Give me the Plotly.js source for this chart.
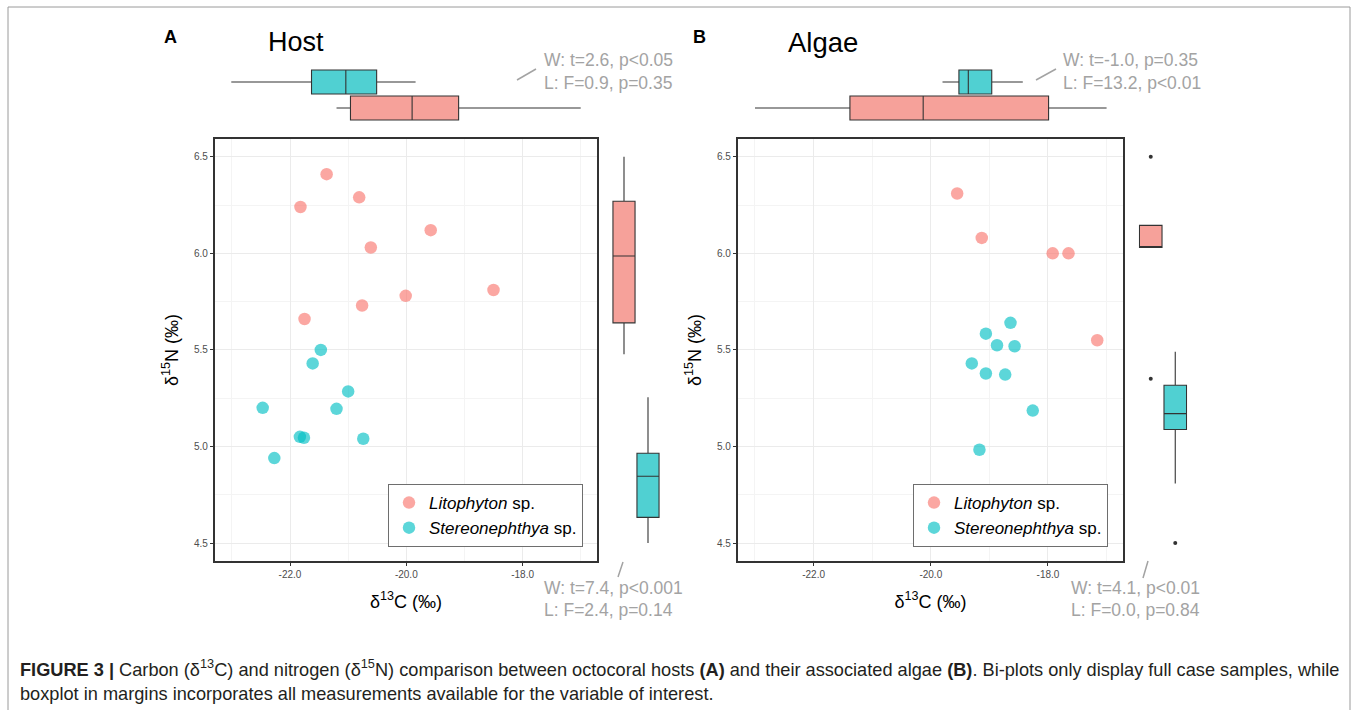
<!DOCTYPE html>
<html>
<head>
<meta charset="utf-8">
<script src="https://cdn.plot.ly/plotly-3.0.1.min.js"></script>
<style>
html,body{margin:0;padding:0;background:#fff;}
#chart{width:1357px;height:710px;}
</style>
</head>
<body>
<div id="chart"></div>
<script>
// ---------------- DATA ----------------
const species = ["Litophyton", "Stereonephthya"];
const legendNames = ["<i>Litophyton</i> sp.", "<i>Stereonephthya</i> sp."];

// Panel A (Host) bi-plot
const hostLitoC = [-21.37, -20.81, -21.82, -19.58, -20.61, -18.50, -20.01, -20.76, -21.75];
const hostLitoN = [6.41, 6.29, 6.24, 6.12, 6.03, 5.81, 5.78, 5.73, 5.66];
const hostStereoC = [-21.47, -21.61, -21.00, -22.47, -21.20, -21.83, -21.76, -20.74, -22.27];
const hostStereoN = [5.50, 5.43, 5.285, 5.20, 5.195, 5.05, 5.045, 5.04, 4.94];

// Panel B (Algae) bi-plot
const algaeLitoC = [-19.55, -19.13, -17.92, -17.65, -17.16];
const algaeLitoN = [6.31, 6.08, 6.00, 6.00, 5.55];
const algaeStereoC = [-18.64, -19.06, -18.87, -18.57, -19.30, -19.06, -18.73, -18.26, -19.17];
const algaeStereoN = [5.64, 5.584, 5.524, 5.519, 5.43, 5.378, 5.372, 5.186, 4.983];

// Marginal boxplot stats: [lowerfence, q1, median, q3, upperfence]
const hostLitoC_box   = [-21.20, -20.96, -19.90, -19.10, -17.00];
const hostStereoC_box = [-23.01, -21.63, -21.04, -20.51, -19.84];
const hostLitoN_box   = [5.478, 5.64, 5.986, 6.27, 6.50];
const hostStereoN_box = [4.50, 4.633, 4.846, 4.965, 5.255];

const algaeLitoC_box   = [-23.00, -21.38, -20.13, -17.99, -17.00];
const algaeStereoC_box = [-19.80, -19.52, -19.36, -18.96, -18.43];
const algaeLitoN_box   = [6.03, 6.03, 6.03, 6.145, 6.145];
const algaeStereoN_box = [4.808, 5.088, 5.17, 5.317, 5.49];
const algaeLitoN_out   = [6.50, 5.35];
const algaeStereoN_out = [4.50];

// Test statistics
const statsHostC  = ["W: t=2.6, p<0.05", "L: F=0.9, p=0.35"];
const statsHostN  = ["W: t=7.4, p<0.001", "L: F=2.4, p=0.14"];
const statsAlgaeC = ["W: t=-1.0, p=0.35", "L: F=13.2, p<0.01"];
const statsAlgaeN = ["W: t=4.1, p<0.01", "L: F=0.0, p=0.84"];

// Axis ticks
const xTickVals = [-22, -20, -18];
const xTickText = ["-22.0", "-20.0", "-18.0"];
const xMinorVals = [-23, -21, -19, -17];
const yTickVals = [4.5, 5.0, 5.5, 6.0, 6.5];
const yTickText = ["4.5", "5.0", "5.5", "6.0", "6.5"];
const yMinorVals = [4.75, 5.25, 5.75, 6.25];

const captionLine1 = "<b>FIGURE 3 |</b> Carbon (δ<sup>13</sup>C) and nitrogen (δ<sup>15</sup>N) comparison between octocoral hosts <b>(A)</b> and their associated algae <b>(B)</b>. Bi-plots only display full case samples, while";
const captionLine2 = "boxplot in margins incorporates all measurements available for the variable of interest.";

// ---------------- STYLE ----------------
const W = 1357, H = 710;
const fx = p => p / W;
const fy = p => 1 - p / H;
const FONT = "Liberation Sans, Arial, Helvetica, sans-serif";
const RED = "rgba(248,118,109,0.64)";
const TEAL = "rgba(0,191,196,0.64)";
const RED_BOX = "#F6A19A";
const TEAL_BOX = "#50D0D2";
const STAT_GREY = "#A3A3A3";
const X_RANGE = [-23.29, -16.72];
const Y_RANGE = [4.407, 6.592];

function scatter(x, y, xa, ya, color, name, legend) {
  return {type: "scatter", mode: "markers", x: x, y: y, xaxis: xa, yaxis: ya,
    name: name, legend: legend, showlegend: true, legendgroup: name + legend,
    marker: {size: 12.5, color: color, line: {width: 0}}, hoverinfo: "x+y"};
}
function hbox(stats, pos, xa, ya, fill) {
  return {type: "box", orientation: "h", xaxis: xa, yaxis: ya, y: [pos],
    lowerfence: [stats[0]], q1: [stats[1]], median: [stats[2]], q3: [stats[3]], upperfence: [stats[4]],
    width: 0.92, whiskerwidth: 0, fillcolor: fill, line: {color: "#333333", width: 1.1},
    showlegend: false, boxpoints: false, hoverinfo: "skip"};
}
function vbox(stats, pos, xa, ya, fill) {
  return {type: "box", orientation: "v", xaxis: xa, yaxis: ya, x: [pos],
    lowerfence: [stats[0]], q1: [stats[1]], median: [stats[2]], q3: [stats[3]], upperfence: [stats[4]],
    width: 0.92, whiskerwidth: 0, fillcolor: fill, line: {color: "#333333", width: 1.1},
    showlegend: false, boxpoints: false, hoverinfo: "skip"};
}

const traces = [
  scatter(hostLitoC, hostLitoN, "x", "y", RED, legendNames[0], "legend"),
  scatter(hostStereoC, hostStereoN, "x", "y", TEAL, legendNames[1], "legend"),
  scatter(algaeLitoC, algaeLitoN, "x2", "y2", RED, legendNames[0], "legend2"),
  scatter(algaeStereoC, algaeStereoN, "x2", "y2", TEAL, legendNames[1], "legend2"),
  // top marginals (x shares panel range via hidden twin axes)
  hbox(hostLitoC_box, 0, "x5", "y3", RED_BOX),
  hbox(hostStereoC_box, 1, "x5", "y3", TEAL_BOX),
  hbox(algaeLitoC_box, 0, "x6", "y4", RED_BOX),
  hbox(algaeStereoC_box, 1, "x6", "y4", TEAL_BOX),
  // right marginals
  vbox(hostLitoN_box, 0, "x3", "y5", RED_BOX),
  vbox(hostStereoN_box, 1, "x3", "y5", TEAL_BOX),
  vbox(algaeLitoN_box, 0, "x4", "y6", RED_BOX),
  vbox(algaeStereoN_box, 1, "x4", "y6", TEAL_BOX),
  {type: "scatter", mode: "markers", xaxis: "x4", yaxis: "y6",
   x: algaeLitoN_out.map(() => 0), y: algaeLitoN_out,
   marker: {size: 4, color: "#333333"}, showlegend: false, hoverinfo: "y"},
  {type: "scatter", mode: "markers", xaxis: "x4", yaxis: "y6",
   x: algaeStereoN_out.map(() => 1), y: algaeStereoN_out,
   marker: {size: 4, color: "#333333"}, showlegend: false, hoverinfo: "y"}
];

function mainX(domain, anchor) {
  return {domain: domain, anchor: anchor, range: X_RANGE,
    tickmode: "array", tickvals: xTickVals, ticktext: xTickText,
    ticks: "outside", ticklen: 3, tickwidth: 1, tickcolor: "#333333",
    tickfont: {size: 10, color: "#4D4D4D", family: FONT},
    showgrid: true, gridcolor: "#EBEBEB", gridwidth: 1,
    minor: {tickmode: "array", tickvals: xMinorVals, showgrid: true, gridcolor: "#F4F4F4", gridwidth: 1, ticks: ""},
    showline: true, linecolor: "#333333", linewidth: 2.2, mirror: true, zeroline: false,
    title: {text: "δ<sup>13</sup>C (‰)", font: {size: 18, color: "#000", family: FONT}, standoff: 16}};
}
function mainY(domain, anchor) {
  return {domain: domain, anchor: anchor, range: Y_RANGE,
    tickmode: "array", tickvals: yTickVals, ticktext: yTickText,
    ticks: "outside", ticklen: 3, tickwidth: 1, tickcolor: "#333333",
    tickfont: {size: 10, color: "#4D4D4D", family: FONT},
    showgrid: true, gridcolor: "#EBEBEB", gridwidth: 1,
    minor: {tickmode: "array", tickvals: yMinorVals, showgrid: true, gridcolor: "#F4F4F4", gridwidth: 1, ticks: ""},
    showline: true, linecolor: "#333333", linewidth: 2.2, mirror: true, zeroline: false,
    title: {text: "δ<sup>15</sup>N (‰)", font: {size: 18, color: "#000", family: FONT}, standoff: 11}};
}
const hidden = (domain, anchor, range) => ({domain: domain, anchor: anchor, range: range,
  visible: false, showgrid: false, zeroline: false, fixedrange: true});

const yDom = [fy(561), fy(139)];
const topDom = [fy(121), fy(69)];
const xDomA = [fx(215), fx(597)];
const xDomB = [fx(738), fx(1123)];
const rightDomA = [fx(612), fx(660)];
const rightDomB = [fx(1138.5), fx(1187.5)];

function legendCfg(xRight) {
  return {x: fx(xRight), xanchor: "right", y: fy(547), yanchor: "bottom",
    bgcolor: "#FFFFFF", bordercolor: "#6E6E6E", borderwidth: 1,
    font: {size: 17, color: "#000", family: FONT}, itemwidth: 30,
    tracegroupgap: 6, traceorder: "normal"};
}

function txt(x, y, text, size, color, extra) {
  return Object.assign({xref: "paper", yref: "paper", x: fx(x), y: fy(y), text: text,
    showarrow: false, xanchor: "left", yanchor: "middle",
    font: {size: size, color: color, family: FONT}}, extra || {});
}
function seg(x0, y0, x1, y1, color, w) {
  return {type: "line", xref: "paper", yref: "paper", x0: fx(x0), y0: fy(y0), x1: fx(x1), y1: fy(y1),
    line: {color: color, width: w}};
}

const layout = {
  width: W, height: H, margin: {l: 0, r: 0, t: 0, b: 0},
  paper_bgcolor: "#FFFFFF", plot_bgcolor: "#FFFFFF",
  showlegend: true, boxmode: "overlay",
  xaxis: mainX(xDomA, "y"),
  yaxis: mainY(yDom, "x"),
  xaxis2: mainX(xDomB, "y2"),
  yaxis2: mainY(yDom, "x2"),
  xaxis5: hidden(xDomA, "y3", X_RANGE),
  yaxis3: hidden(topDom, "x5", [-0.5, 1.5]),
  xaxis6: hidden(xDomB, "y4", X_RANGE),
  yaxis4: hidden(topDom, "x6", [-0.5, 1.5]),
  xaxis3: hidden(rightDomA, "y5", [-0.5, 1.5]),
  yaxis5: hidden(yDom, "x3", Y_RANGE),
  xaxis4: hidden(rightDomB, "y6", [-0.5, 1.5]),
  yaxis6: hidden(yDom, "x4", Y_RANGE),
  legend: legendCfg(583),
  legend2: legendCfg(1108),
  annotations: [
    txt(162, 37, "<b>A</b>", 18, "#000"),
    txt(266, 42, "Host", 27, "#000"),
    txt(691, 37, "<b>B</b>", 18, "#000"),
    txt(786, 42, "Algae", 27.5, "#000"),
    txt(542, 60, statsHostC[0], 17.5, STAT_GREY),
    txt(542, 83, statsHostC[1], 17.5, STAT_GREY),
    txt(542, 588, statsHostN[0], 17.5, STAT_GREY),
    txt(542, 610, statsHostN[1], 17.5, STAT_GREY),
    txt(1061, 60, statsAlgaeC[0], 17.5, STAT_GREY),
    txt(1061, 83, statsAlgaeC[1], 17.5, STAT_GREY),
    txt(1069, 588, statsAlgaeN[0], 17.5, STAT_GREY),
    txt(1069, 610, statsAlgaeN[1], 17.5, STAT_GREY),
    txt(18, 668, captionLine1, 18.2, "#231F20"),
    txt(18, 694, captionLine2, 18.2, "#231F20")
  ],
  shapes: [
    {type: "rect", xref: "paper", yref: "paper", x0: fx(8), y0: fy(712), x1: fx(1350), y1: fy(7),
     line: {color: "#9A9A9A", width: 1}, fillcolor: "rgba(0,0,0,0)", layer: "below"},
    seg(517, 80, 536, 69, STAT_GREY, 1.5),
    seg(618, 577, 623, 562, STAT_GREY, 1.5),
    seg(1036, 80, 1056, 69, STAT_GREY, 1.5),
    seg(1143, 578, 1148, 561, STAT_GREY, 1.5)
  ]
};

Plotly.newPlot("chart", traces, layout, {displayModeBar: false, staticPlot: true});
</script>
</body>
</html>
